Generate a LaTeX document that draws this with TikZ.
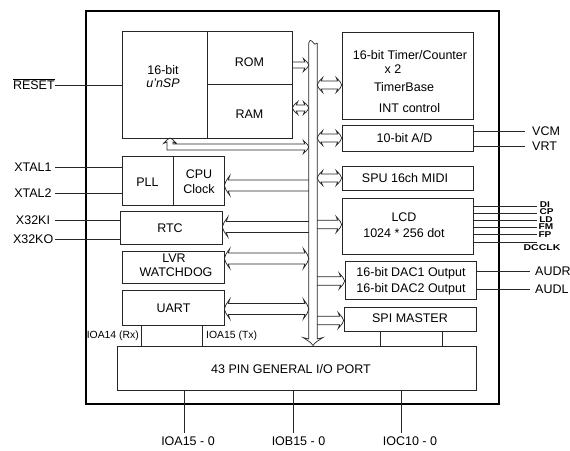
\documentclass[tikz,border=0pt]{standalone}
\usepackage{fontspec}
\usepackage{graphicx}
\setmainfont{Liberation Sans}
\usetikzlibrary{calc}
\begin{document}
\begin{tikzpicture}[x=1pt,y=-1pt,
  font=\fontsize{12.5}{14}\selectfont,
  ln/.style={draw=black!85, line width=0.7pt},
  blk/.style={ln, rectangle, inner sep=0pt},
  txt/.style={inner sep=0pt, text height=9pt, text depth=0pt},
  sml/.style={inner sep=0pt, font=\fontsize{10.4}{12}\selectfont, text height=7.5pt, text depth=0pt},
  sig/.style={inner sep=0pt, font=\fontsize{8.4}{8.4}\selectfont\bfseries, text height=6pt, text depth=0pt},
  pinL/.style={text width=40pt, align=center, inner xsep=2pt, inner ysep=0pt, text height=9pt, text depth=0pt},
  pinR/.style={anchor=west, inner sep=0pt, text height=9pt, text depth=0pt},
  fatw/.code={\def\fw{#1}},
  fath/.code={\def\fh{#1}},
  fatl/.code={\def\fl{#1}},
  fatA/.style={ln, fatw=3, fath=6.5, fatl=4},
  fatB/.style={ln, fatw=5.5, fath=10, fatl=4},
  fatC/.style={ln, fatw=4.3, fath=8, fatl=4},
  fatD/.style={ln, fatw=4, fath=7.5, fatl=4},
  toR/.style={to path={
    ($(\tikztostart)+(0,\fw)$) -- ($(\tikztotarget)+(-\fl,\fw)$) -- ($(\tikztotarget)+({-\fl-1.5},\fh)$)
    .. controls ($(\tikztotarget)+({-0.3*\fl},{0.4*\fh})$) .. (\tikztotarget)
    .. controls ($(\tikztotarget)+({-0.3*\fl},{-0.4*\fh})$) .. ($(\tikztotarget)+({-\fl-1.5},-\fh)$)
    -- ($(\tikztotarget)+(-\fl,-\fw)$) -- ($(\tikztostart)+(0,-\fw)$)}},
  toL/.style={to path={
    ($(\tikztostart)+(0,\fw)$) -- ($(\tikztotarget)+(\fl,\fw)$) -- ($(\tikztotarget)+({\fl+1.5},\fh)$)
    .. controls ($(\tikztotarget)+({0.3*\fl},{0.4*\fh})$) .. (\tikztotarget)
    .. controls ($(\tikztotarget)+({0.3*\fl},{-0.4*\fh})$) .. ($(\tikztotarget)+({\fl+1.5},-\fh)$)
    -- ($(\tikztotarget)+(\fl,-\fw)$) -- ($(\tikztostart)+(0,-\fw)$)}},
  toB/.style={to path={
    (\tikztostart) .. controls ($(\tikztostart)+({0.3*\fl},{0.4*\fh})$) .. ($(\tikztostart)+({\fl+1.5},\fh)$)
    -- ($(\tikztostart)+(\fl,\fw)$) -- ($(\tikztotarget)+(-\fl,\fw)$) -- ($(\tikztotarget)+({-\fl-1.5},\fh)$)
    .. controls ($(\tikztotarget)+({-0.3*\fl},{0.4*\fh})$) .. (\tikztotarget)
    .. controls ($(\tikztotarget)+({-0.3*\fl},{-0.4*\fh})$) .. ($(\tikztotarget)+({-\fl-1.5},-\fh)$)
    -- ($(\tikztotarget)+(-\fl,-\fw)$) -- ($(\tikztostart)+(\fl,-\fw)$) -- ($(\tikztostart)+({\fl+1.5},-\fh)$)
    .. controls ($(\tikztostart)+({0.3*\fl},{-0.4*\fh})$) .. (\tikztostart)}}
]
\useasboundingbox (0,0) rectangle (570,450);

% chip outline
\node[draw=black, line width=1.6pt, rectangle, inner sep=0pt, minimum width=413pt, minimum height=393pt] (chip) at (292.5,207.5) {};

% blocks
\node[blk, minimum width=84.5pt, minimum height=107pt] (cpu) at (164.75,84.5) {};
\node[blk, minimum width=85pt, minimum height=53pt] (rom) at (249.5,57.5) {};
\node[blk, minimum width=85pt, minimum height=54pt] (ram) at (249.5,111) {};
\node[blk, minimum width=131pt, minimum height=87pt] (timer) at (407.5,75.5) {};
\node[blk, minimum width=131pt, minimum height=26pt] (ad) at (407.5,138) {};
\node[blk, minimum width=131pt, minimum height=24pt] (spu) at (407.5,178) {};
\node[blk, minimum width=131pt, minimum height=56pt] (lcd) at (407.5,226) {};
\node[blk, minimum width=131pt, minimum height=38pt] (dac) at (410.5,280) {};
\node[blk, minimum width=132pt, minimum height=24pt] (spi) at (410,319) {};
\node[blk, minimum width=359pt, minimum height=44pt] (gpio) at (296.5,368) {};
\node[blk, minimum width=51pt, minimum height=49pt] (pll) at (147.5,180.5) {};
\node[blk, minimum width=51pt, minimum height=49pt] (clk) at (198.5,180.5) {};
\node[blk, minimum width=102pt, minimum height=33pt] (rtc) at (171,227.5) {};
\node[blk, minimum width=102pt, minimum height=32pt] (lvr) at (173,267) {};
\node[blk, minimum width=102pt, minimum height=35pt] (uart) at (173,307.5) {};

% block texts
\node[txt] (cpuA) at (163,70) {16-bit};
\node[txt] (cpuB) at (163,83) {\itshape u'nSP};
\node[txt] (romT) at (249.5,62) {ROM};
\node[txt] (ramT) at (249.5,114) {RAM};
\node[txt] (timA) at (410,55) {16-bit Timer/Counter};
\node[txt] (timB) at (393,69) {x 2};
\node[txt] (timC) at (404,87) {TimerBase};
\node[txt] (timD) at (409.5,108) {INT control};
\node[txt] (adT) at (404.5,138) {10-bit A/D};
\node[txt] (spuT) at (405,178) {SPU 16ch MIDI};
\node[txt] (lcdA) at (404,217) {LCD};
\node[txt] (lcdB) at (404,233) {1024 * 256 dot};
\node[txt] (dacA) at (411,272) {16-bit DAC1 Output};
\node[txt] (dacB) at (411,288) {16-bit DAC2 Output};
\node[txt] (spiT) at (410,318) {SPI MASTER};
\node[txt] (gpioT) at (291,369) {43 PIN GENERAL I/O PORT};
\node[txt] (pllT) at (147.5,182) {PLL};
\node[txt] (clkA) at (199,174) {CPU};
\node[txt] (clkB) at (199,189) {Clock};
\node[txt] (rtcT) at (170,227.5) {RTC};
\node[txt] (lvrA) at (174,258) {LVR};
\node[txt] (lvrB) at (176,272) {WATCHDOG};
\node[txt] (uartT) at (173.5,307.5) {UART};

% bus
\coordinate (busTL) at (308.8,43);
\coordinate (busTR) at (317.2,43);
\coordinate (busB) at (313,345.5);
\draw[ln] (busTL) -- ($(busB)+(-4.2,-6.5)$) -- ($(busB)+(-10,-8)$)
  .. controls ($(busB)+(-1.5,-2.5)$) .. (busB)
  .. controls ($(busB)+(1.5,-2.5)$) .. ($(busB)+(10,-8)$)
  -- ($(busB)+(4.2,-6.5)$) -- (busTR);
\draw[ln] (busTL) .. controls (309.5,39.5) and (311.5,40) .. (313,42.5) .. controls (314,44.5) and (316,45) .. (busTR);

% bus connection points
\coordinate (bROM) at (308.8,65);
\coordinate (bRAM) at (308.8,108);
\coordinate (bCPU) at (308.8,147);
\coordinate (cpuIn) at (170,138);
\coordinate (bCLK) at (308.8,185.5);
\coordinate (bRTC) at (308.8,227);
\coordinate (bLVR) at (308.8,258.5);
\coordinate (bUART) at (308.8,309);
\coordinate (bTIM) at (317.2,85);
\coordinate (bAD) at (317.2,138);
\coordinate (bSPU) at (317.2,178);
\coordinate (bLCD) at (317.2,224.5);
\coordinate (bDAC) at (317.2,281);
\coordinate (bSPI) at (317.2,320.5);

% bus arrows
\draw[fatA] (rom.east |- bROM) to[toR] (bROM);
\draw[fatA] (ram.east |- bRAM) to[toB] (bRAM);
\draw[fatA] ($(cpuIn)+(-3,4)$) -- ($(cpuIn)+(-3,12)$) -- ($(bCPU)+(-4,3)$) -- ($(bCPU)+(-5.5,6.5)$)
  .. controls ($(bCPU)+(-1.2,2.6)$) .. (bCPU)
  .. controls ($(bCPU)+(-1.2,-2.6)$) .. ($(bCPU)+(-5.5,-6.5)$)
  -- ($(bCPU)+(-4,-3)$) -- ($(cpuIn)+(3,6)$) -- ($(cpuIn)+(3,4)$) -- ($(cpuIn)+(6.5,5.5)$)
  .. controls ($(cpuIn)+(2.6,1.2)$) .. (cpuIn)
  .. controls ($(cpuIn)+(-2.6,1.2)$) .. ($(cpuIn)+(-6.5,5.5)$) -- cycle;
\draw[fatB] (bCLK) to[toL] (clk.east |- bCLK);
\draw[fatB] (bRTC) to[toL] (rtc.east |- bRTC);
\draw[fatB] (lvr.east |- bLVR) to[toB] (bLVR);
\draw[fatB] (uart.east |- bUART) to[toB] (bUART);
\draw[fatD] (bTIM) to[toB] (timer.west |- bTIM);
\draw[fatD] (bAD) to[toB] (ad.west |- bAD);
\draw[fatD] (bSPU) to[toB] (spu.west |- bSPU);
\draw[fatC] (bLCD) to[toR] (lcd.west |- bLCD);
\draw[fatC] (bDAC) to[toR] (dac.west |- bDAC);
\draw[fatC] (bSPI) to[toR] (spi.west |- bSPI);

% left pins
\node[pinL] (reset) at (33,85) {\(\overline{\mbox{RESET}}\)};
\node[pinL] (xtal1) at (33,167) {XTAL1};
\node[pinL] (xtal2) at (33,193) {XTAL2};
\node[pinL] (x32ki) at (33,220) {X32KI};
\node[pinL] (x32ko) at (33,239) {X32KO};
\draw[ln] (reset.east) -- (reset.east -| cpu.west);
\draw[ln] (xtal1.east) -- (xtal1.east -| pll.west);
\draw[ln] (xtal2.east) -- (xtal2.east -| pll.west);
\draw[ln] (x32ki.east) -- (x32ki.east -| rtc.west);
\draw[ln] (x32ko.east) -- (x32ko.east -| rtc.west);

% right pins
\node[pinR] (vcm) at (532,131) {VCM};
\node[pinR] (vrt) at (532,146) {VRT};
\node[pinR] (audr) at (535,271) {AUDR};
\node[pinR] (audl) at (535,289) {AUDL};
\draw[ln] (ad.east |- vcm.west) -- ([xshift=-7pt]vcm.west);
\draw[ln] (ad.east |- vrt.west) -- ([xshift=-7pt]vrt.west);
\draw[ln] (dac.east |- audr.west) -- ([xshift=-5pt]audr.west);
\draw[ln] (dac.east |- audl.west) -- ([xshift=-5pt]audl.west);

% LCD signals
\coordinate (s1) at (537,206);
\coordinate (s2) at (537,213.2);
\coordinate (s3) at (537,220.4);
\coordinate (s4) at (537,227.6);
\coordinate (s5) at (537,234.8);
\coordinate (s6) at (537,242);
\foreach \s in {s1,s2,s3,s4,s5,s6} \draw[ln] (lcd.east |- \s) -- (\s);
\node[sig] (di) at (545,204) {\scalebox{1.2}[1]{DI}};
\node[sig] (cp) at (546.5,211.5) {\scalebox{1.2}[1]{CP}};
\node[sig] (ld) at (546,219) {\scalebox{1.2}[1]{LD}};
\node[sig] (fm) at (546,226.5) {\scalebox{1.2}[1]{FM}};
\node[sig] (fp) at (545,234) {\scalebox{1.2}[1]{FP}};
\node[sig] (dcclk) at (542,247.5) {\scalebox{1.25}[1]{DCCLK}};

% UART / SPI to GPIO
\coordinate (u1) at (141,325);
\coordinate (u2) at (202,325);
\coordinate (p1) at (380,331);
\coordinate (p2) at (442,331);
\draw[ln] (u1) -- (u1 |- gpio.north);
\draw[ln] (u2) -- (u2 |- gpio.north);
\draw[ln] (p1) -- (p1 |- gpio.north);
\draw[ln] (p2) -- (p2 |- gpio.north);
\node[sml, anchor=east] (rx) at (139,335) {IOA14 (Rx)};
\node[sml, anchor=west] (tx) at (206,335) {IOA15 (Tx)};

% GPIO ports
\coordinate (ioaL) at (184,433);
\coordinate (iobL) at (293,433);
\coordinate (iocL) at (401,433);
\draw[ln] (gpio.south -| ioaL) -- (ioaL);
\draw[ln] (gpio.south -| iobL) -- (iobL);
\draw[ln] (gpio.south -| iocL) -- (iocL);
\node[txt] (ioa) at (188,441) {IOA15 - 0};
\node[txt] (iob) at (298.5,441) {IOB15 - 0};
\node[txt] (ioc) at (410,441) {IOC10 - 0};
\end{tikzpicture}
\end{document}
